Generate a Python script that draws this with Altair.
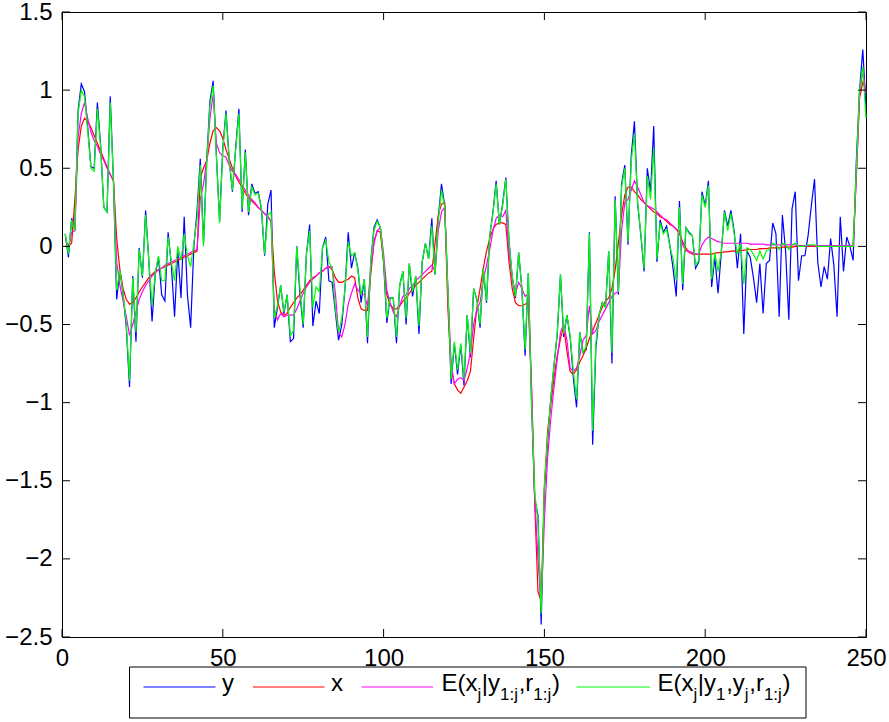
import altair as alt
import pandas as pd

# time index
t = list(range(1, 251))

# observations y
y_obs = [
    0.08, -0.07, 0.18, 0.10, 0.87, 1.04, 0.99, 0.76, 0.51, 0.50,
    0.92, 0.65, 0.25, 0.22, 0.96, 0.42, -0.34, -0.15, -0.31, -0.52,
    -0.90, -0.19, -0.61, -0.01, -0.20, 0.23, -0.09, -0.48, -0.18, -0.07,
    -0.31, -0.35, 0.09, -0.12, -0.45, -0.03, -0.33, 0.19, -0.31, -0.52,
    0.00, 0.23, 0.56, 0.02, 0.55, 0.93, 1.06, 0.59, 0.16, 0.63,
    0.87, 0.55, 0.35, 0.63, 0.88, 0.22, 0.62, 0.20, 0.40, 0.34,
    0.35, 0.24, -0.06, 0.27, 0.36, -0.52, -0.39, -0.25, -0.43, -0.31,
    -0.61, -0.59, 0.00, -0.31, -0.52, -0.05, 0.14, -0.51, -0.35, -0.43,
    -0.01, 0.06, -0.22, -0.23, -0.42, -0.60, -0.50, -0.27, 0.09, -0.14,
    -0.04, -0.14, -0.36, -0.21, -0.62, -0.10, 0.12, 0.17, 0.12, -0.10,
    -0.49, -0.33, -0.33, -0.62, -0.25, -0.16, -0.50, -0.11, -0.32, -0.19,
    -0.56, -0.10, 0.02, -0.08, 0.18, -0.18, 0.18, 0.40, 0.26, -0.29,
    -0.88, -0.62, -0.82, -0.63, -0.89, -0.44, -0.71, -0.27, -0.34, -0.52,
    -0.14, -0.36, 0.07, 0.22, 0.42, 0.14, 0.27, 0.44, 0.03, -0.20,
    -0.33, -0.04, -0.27, -0.70, -0.17, -1.00, -1.62, -1.72, -2.42, -1.55,
    -1.25, -0.97, -0.76, -0.56, -0.18, -0.58, -0.44, -0.58, -0.84, -1.03,
    -0.55, -0.68, -0.66, 0.09, -1.27, -0.65, -0.44, -0.36, -0.39, -0.03,
    -0.75, 0.32, -0.31, 0.40, 0.52, 0.01, 0.58, 0.80, 0.27, 0.07,
    -0.16, 0.50, 0.35, 0.77, -0.10, 0.17, 0.09, 0.13, 0.01, -0.14,
    -0.32, 0.29, -0.28, 0.12, 0.09, 0.07, -0.14, -0.10, 0.35, 0.26,
    0.42, -0.26, -0.07, -0.30, -0.04, 0.23, 0.13, 0.23, 0.10, -0.14,
    0.08, -0.56, -0.03, -0.07, -0.20, -0.36, -0.11, -0.43, -0.11, -0.09,
    0.15, 0.08, -0.45, 0.20, -0.03, -0.47, 0.24, 0.35, -0.22, -0.06,
    -0.06, 0.07, 0.26, 0.43, -0.10, -0.26, -0.13, -0.21, 0.05, -0.12,
    -0.45, 0.19, -0.16, 0.06, 0.00, -0.09, 0.55, 1.00, 1.26, 0.88,
]

# hidden state x
x_true = [
    0.00, 0.00, 0.02, 0.30, 0.62, 0.77, 0.82, 0.80, 0.76, 0.71,
    0.66, 0.61, 0.56, 0.51, 0.46, 0.42, 0.05, -0.15, -0.27, -0.34,
    -0.37, -0.36, -0.33, -0.29, -0.26, -0.23, -0.20, -0.18, -0.16, -0.15,
    -0.14, -0.13, -0.12, -0.11, -0.10, -0.09, -0.08, -0.07, -0.06, -0.05,
    -0.04, -0.03, 0.44, 0.50, 0.55, 0.66, 0.74, 0.76, 0.74, 0.69,
    0.62, 0.56, 0.50, 0.45, 0.41, 0.38, 0.34, 0.31, 0.29, 0.27,
    0.25, 0.23, 0.21, 0.19, 0.16, -0.16, -0.35, -0.42, -0.44, -0.43,
    -0.39, -0.36, -0.33, -0.31, -0.28, -0.25, -0.22, -0.20, -0.19, -0.17,
    -0.16, -0.14, -0.13, -0.15, -0.20, -0.23, -0.23, -0.22, -0.21, -0.19,
    -0.20, -0.33, -0.40, -0.41, -0.41, -0.18, 0.03, 0.10, 0.09, -0.10,
    -0.31, -0.37, -0.40, -0.40, -0.38, -0.35, -0.33, -0.30, -0.27, -0.25,
    -0.23, -0.21, -0.19, -0.17, -0.16, 0.02, 0.20, 0.27, 0.28, -0.40,
    -0.78, -0.88, -0.92, -0.94, -0.90, -0.86, -0.80, -0.59, -0.39, -0.27,
    -0.14, -0.03, 0.05, 0.11, 0.14, 0.15, 0.15, 0.14, -0.10, -0.27,
    -0.36, -0.38, -0.38, -0.37, -0.36, -0.90, -1.65, -2.21, -2.27, -1.54,
    -1.18, -1.01, -0.84, -0.70, -0.59, -0.51, -0.67, -0.80, -0.82, -0.79,
    -0.74, -0.70, -0.65, -0.59, -0.54, -0.49, -0.44, -0.39, -0.35, -0.33,
    -0.27, -0.15, 0.02, 0.20, 0.33, 0.38, 0.38, 0.35, 0.33, 0.30,
    0.28, 0.26, 0.24, 0.22, 0.21, 0.19, 0.18, 0.16, 0.14, 0.13,
    0.11, 0.08, 0.03, -0.01, -0.04, -0.05, -0.05, -0.05, -0.05, -0.05,
    -0.05, -0.05, -0.045, -0.04, -0.04, -0.035, -0.035, -0.03, -0.03, -0.03,
    -0.025, -0.025, -0.02, -0.02, -0.02, -0.02, -0.015, -0.015, -0.015, -0.01,
    -0.01, -0.01, -0.01, -0.005, -0.005, -0.005, -0.005, 0.00, 0.00, 0.00,
    0.00, 0.00, 0.00, 0.00, 0.00, 0.00, 0.00, 0.00, 0.00, 0.00,
    0.00, 0.00, 0.00, 0.00, 0.00, 0.00, 0.45, 0.95, 1.05, 1.00,
]

# E(x_j | y_{1:j}, r_{1:j})
e_filter = [
    0.05, 0.00, 0.09, 0.10, 0.70, 0.85, 0.92, 0.82, 0.73, 0.68,
    0.64, 0.59, 0.55, 0.50, 0.46, 0.42, -0.10, -0.25, -0.35, -0.45,
    -0.57, -0.50, -0.42, -0.34, -0.29, -0.25, -0.22, -0.19, -0.17, -0.15,
    -0.14, -0.12, -0.11, -0.10, -0.09, -0.08, -0.07, -0.06, -0.05, -0.04,
    -0.03, -0.02, 0.30, 0.40, 0.55, 0.82, 0.97, 0.66, 0.60, 0.58,
    0.57, 0.52, 0.48, 0.46, 0.43, 0.39, 0.36, 0.33, 0.30, 0.28,
    0.25, 0.23, 0.21, 0.19, 0.16, -0.40, -0.47, -0.43, -0.45, -0.44,
    -0.44, -0.44, -0.40, -0.35, -0.30, -0.26, -0.23, -0.21, -0.19, -0.17,
    -0.16, -0.14, -0.13, -0.13, -0.30, -0.55, -0.58, -0.50, -0.37, -0.30,
    -0.24, -0.28, -0.30, -0.31, -0.38, -0.15, 0.02, 0.10, 0.12, -0.05,
    -0.28, -0.36, -0.42, -0.45, -0.38, -0.32, -0.31, -0.27, -0.25, -0.22,
    -0.20, -0.18, -0.16, -0.14, -0.12, -0.16, 0.10, 0.22, 0.25, -0.30,
    -0.75, -0.88, -0.85, -0.84, -0.86, -0.78, -0.68, -0.50, -0.40, -0.36,
    -0.22, -0.12, -0.02, 0.10, 0.18, 0.20, 0.19, 0.23, -0.05, -0.20,
    -0.30, -0.23, -0.27, -0.32, -0.30, -0.90, -1.60, -2.00, -2.30, -1.75,
    -1.35, -1.10, -0.90, -0.72, -0.55, -0.50, -0.60, -0.78, -0.80, -0.78,
    -0.70, -0.60, -0.57, -0.38, -0.56, -0.54, -0.48, -0.44, -0.40, -0.36,
    -0.32, -0.30, -0.29, 0.10, 0.28, 0.30, 0.36, 0.42, 0.38, 0.33,
    0.28, 0.26, 0.25, 0.24, 0.22, 0.20, 0.18, 0.17, 0.15, 0.13,
    0.11, 0.10, 0.01, -0.03, -0.03, -0.04, -0.05, -0.05, 0.01, 0.04,
    0.06, 0.05, 0.04, 0.03, 0.025, 0.02, 0.02, 0.02, 0.02, 0.02,
    0.02, 0.02, 0.02, 0.015, 0.015, 0.015, 0.015, 0.015, 0.01, 0.01,
    0.01, 0.01, 0.01, 0.01, 0.01, 0.01, 0.01, 0.01, 0.005, 0.005,
    0.005, 0.005, 0.005, 0.005, 0.005, 0.005, 0.005, 0.005, 0.005, 0.005,
    0.005, 0.005, 0.005, 0.005, 0.005, 0.005, 0.45, 0.98, 1.12, 0.98,
]

# E(x_j | y_1, y_j, r_{1:j})
e_point = [
    0.08, -0.05, 0.17, 0.10, 0.85, 1.00, 0.96, 0.74, 0.50, 0.48,
    0.88, 0.64, 0.25, 0.22, 0.92, 0.42, -0.28, -0.15, -0.30, -0.50,
    -0.86, -0.20, -0.55, -0.02, -0.19, 0.20, -0.09, -0.38, -0.17, -0.06,
    -0.22, -0.22, 0.06, -0.10, -0.22, 0.00, -0.09, 0.08, -0.06, -0.13,
    0.02, 0.18, 0.52, 0.00, 0.53, 0.90, 1.03, 0.58, 0.15, 0.62,
    0.85, 0.55, 0.36, 0.62, 0.85, 0.24, 0.60, 0.22, 0.38, 0.33,
    0.34, 0.25, -0.05, 0.20, 0.22, -0.46, -0.38, -0.25, -0.42, -0.31,
    -0.57, -0.54, 0.00, -0.27, -0.50, -0.05, 0.10, -0.39, -0.26, -0.29,
    -0.01, 0.04, -0.10, -0.14, -0.40, -0.55, -0.46, -0.27, 0.03, -0.06,
    -0.04, -0.15, -0.31, -0.21, -0.58, -0.10, 0.10, 0.16, 0.12, -0.08,
    -0.46, -0.33, -0.33, -0.58, -0.25, -0.16, -0.46, -0.11, -0.29, -0.19,
    -0.51, -0.10, 0.02, -0.08, 0.13, -0.18, 0.16, 0.36, 0.25, -0.28,
    -0.85, -0.61, -0.79, -0.62, -0.85, -0.44, -0.68, -0.27, -0.34, -0.50,
    -0.14, -0.35, 0.07, 0.21, 0.40, 0.14, 0.26, 0.43, 0.03, -0.19,
    -0.32, -0.04, -0.27, -0.66, -0.17, -1.00, -1.58, -1.75, -2.35, -1.52,
    -1.22, -0.97, -0.76, -0.55, -0.18, -0.56, -0.44, -0.57, -0.80, -0.98,
    -0.55, -0.68, -0.64, 0.08, -1.18, -0.62, -0.44, -0.36, -0.39, -0.03,
    -0.68, 0.30, -0.29, 0.38, 0.50, 0.03, 0.55, 0.72, 0.28, 0.08,
    -0.14, 0.45, 0.30, 0.63, -0.08, 0.15, 0.08, 0.11, 0.00, -0.08,
    -0.22, 0.25, -0.24, 0.12, 0.08, 0.07, -0.12, -0.09, 0.33, 0.25,
    0.39, -0.21, -0.04, -0.16, -0.03, 0.22, 0.10, 0.21, 0.08, -0.05,
    0.02, -0.24, -0.01, -0.02, -0.05, -0.09, -0.03, -0.08, -0.03, -0.02,
    0.02, 0.01, -0.02, 0.02, 0.01, -0.02, 0.01, 0.02, 0.00, 0.00,
    0.00, 0.01, 0.01, 0.01, 0.00, 0.00, 0.00, 0.00, 0.00, 0.00,
    0.00, 0.00, 0.00, 0.00, 0.00, 0.00, 0.50, 1.00, 1.15, 0.82,
]

x_ticks = [0, 50, 100, 150, 200, 250]
y_ticks = [-2.5, -2.0, -1.5, -1.0, -0.5, 0.0, 0.5, 1.0, 1.5]

BLUE, RED, MAGENTA, GREEN = "#0000ff", "#ff0000", "#ff00ff", "#00ff00"
FONT = "Liberation Sans"
TOP = 12
W, H = 804, 625

xs = alt.Scale(domain=[0, 250], nice=False, zero=False)
ys = alt.Scale(domain=[-2.5, 1.5], nice=False, zero=False)

x_axis = alt.Axis(values=x_ticks, tickSize=0, labelPadding=9, grid=False,
                  domainColor="black", labelColor="black", labelFont=FONT,
                  labelFontSize=24, title=None, labelFlush=False, format="d")
y_axis = alt.Axis(values=y_ticks, tickSize=0, labelPadding=10, grid=False,
                  domainColor="black", labelColor="black", labelFont=FONT,
                  labelFontSize=24, title=None, labelFlush=False, format=".1~f")


def line_layer(vals, color):
    df = pd.DataFrame({"t": t, "v": vals})
    return alt.Chart(df).mark_line(color=color, strokeWidth=1.2).encode(
        x=alt.X("t:Q", scale=xs, axis=x_axis),
        y=alt.Y("v:Q", scale=ys, axis=y_axis),
    )


series = alt.layer(
    line_layer(y_obs, BLUE),
    line_layer(x_true, RED),
    line_layer(e_filter, MAGENTA),
    line_layer(e_point, GREEN),
)

# inward tick marks on all four sides of the box
xt = pd.DataFrame({"t": x_ticks})
yt = pd.DataFrame({"v": y_ticks})
TL = 8
ticks = alt.layer(
    alt.Chart(xt).mark_rule(color="black").encode(
        x=alt.X("t:Q", scale=xs, axis=x_axis), y=alt.value(H), y2=alt.value(H - TL)),
    alt.Chart(xt).mark_rule(color="black").encode(
        x=alt.X("t:Q", scale=xs, axis=x_axis), y=alt.value(0), y2=alt.value(TL)),
    alt.Chart(yt).mark_rule(color="black").encode(
        y=alt.Y("v:Q", scale=ys, axis=y_axis), x=alt.value(0), x2=alt.value(TL)),
    alt.Chart(yt).mark_rule(color="black").encode(
        y=alt.Y("v:Q", scale=ys, axis=y_axis), x=alt.value(W - TL), x2=alt.value(W)),
)

# legend below the axes, with subscripted labels built piece by piece
ADV = {"E": 0.667, "(": 0.333, ")": 0.333, "x": 0.5, "j": 0.222, "|": 0.26,
       "y": 0.5, "1": 0.556, ":": 0.278, ",": 0.278, "r": 0.333}
MAIN, SUB = 24, 17
BASE = 691 - TOP
SUB_DY = 9


def label_pieces(x0, parts):
    rows = []
    x = x0
    for txt, is_sub in parts:
        size = SUB if is_sub else MAIN
        rows.append({"px": x, "py": BASE + (SUB_DY if is_sub else 0),
                     "txt": txt, "fs": size})
        x += sum(ADV[c] for c in txt) * size + (0.6 if is_sub else 0)
    return rows


label_rows = []
label_rows += label_pieces(160, [("y", False)])
label_rows += label_pieces(269, [("x", False)])
label_rows += label_pieces(379.5, [("E(x", False), ("j", True), ("|y", False),
                                   ("1:j", True), (",r", False), ("1:j", True),
                                   (")", False)])
label_rows += label_pieces(595.5, [("E(x", False), ("j", True), ("|y", False),
                                   ("1", True), (",y", False), ("j", True),
                                   (",r", False), ("1:j", True), (")", False)])
labels_df = pd.DataFrame(label_rows)

LINE_Y = 687 - TOP
keys = pd.DataFrame({
    "x0": [81.5, 191, 299.5, 514.5],
    "x1": [153.5, 262.5, 371, 588],
    "name": ["y", "x", "E1", "E2"],
})
key_colors = alt.Color("name:N", scale=alt.Scale(domain=["y", "x", "E1", "E2"],
                                                 range=[BLUE, RED, MAGENTA, GREEN]),
                       legend=None)

one = pd.DataFrame({"a": [0]})
legend_box = alt.Chart(one).mark_rect(fill="white", stroke="black", strokeWidth=1).encode(
    x=alt.value(67.5), x2=alt.value(744), y=alt.value(667 - TOP), y2=alt.value(718 - TOP))
legend_lines = alt.Chart(keys).mark_rule(strokeWidth=1.2).encode(
    x=alt.X("x0:Q", scale=None), x2="x1:Q", y=alt.value(LINE_Y), color=key_colors)
legend_text = alt.Chart(labels_df).mark_text(
    align="left", baseline="alphabetic", font=FONT, color="black").encode(
    x=alt.X("px:Q", scale=None), y=alt.Y("py:Q", scale=None),
    text="txt:N", size=alt.Size("fs:Q", scale=None))

chart = alt.layer(series, ticks, legend_box, legend_lines, legend_text).resolve_scale(
    color="independent"
).properties(
    width=W, height=H,
    padding={"left": 62, "top": TOP, "right": 23, "bottom": 722 - TOP - H},
    autosize=alt.AutoSizeParams(type="none"),
    background="white",
).configure_view(stroke="black", strokeWidth=1)

chart.save("out.html", embed_options={"renderer": "svg", "actions": False})
